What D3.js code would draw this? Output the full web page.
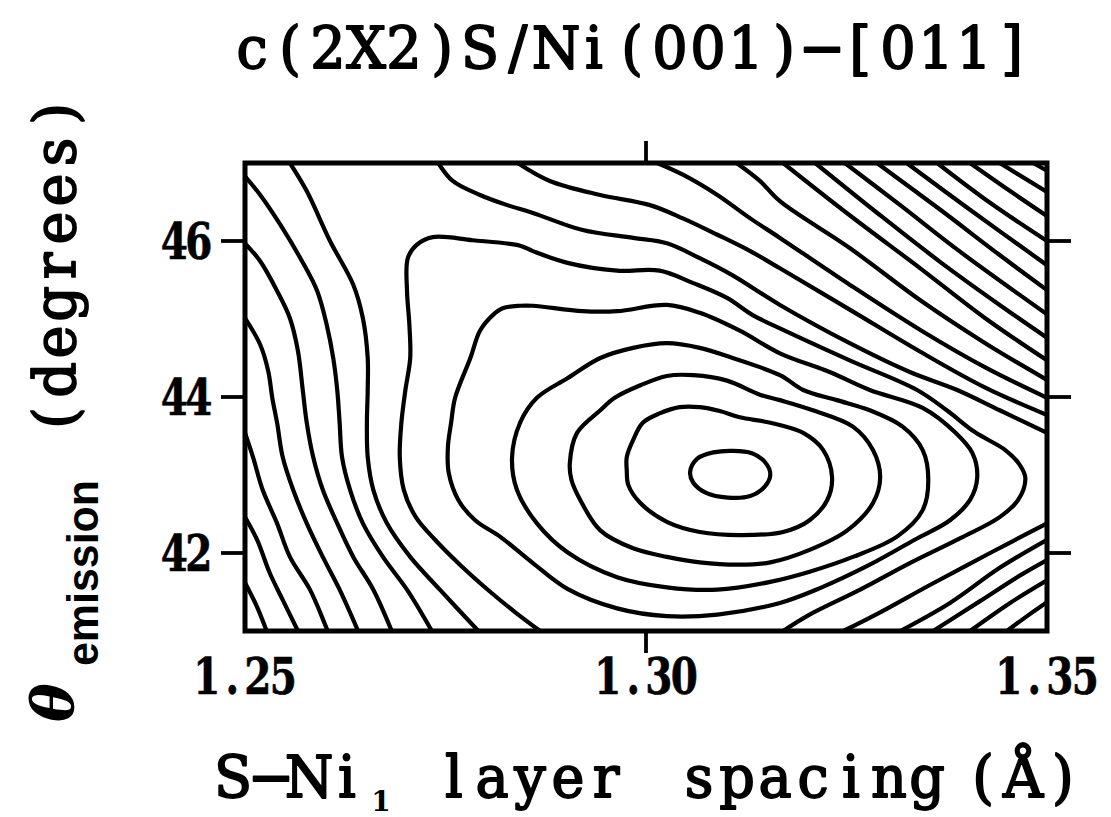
<!DOCTYPE html>
<html>
<head>
<meta charset="utf-8">
<script src="https://cdn.jsdelivr.net/npm/d3@7"></script>
<style>
  body { margin: 0; background: #fff; }
  svg { display: block; }
</style>
</head>
<body>
<svg id="chart" width="1111" height="817"></svg>
<script>
// Axis ranges and ticks
const xDomain = [1.25, 1.35];
const yDomain = [41, 47];
const xTicks = [1.25, 1.30, 1.35];
const xTickLabels = ["1.25", "1.30", "1.35"];
const yTicks = [42, 44, 46];
const yTickLabels = ["42", "44", "46"];

// Contour lines, [layer spacing (Å), emission angle (deg)], innermost level first.
// Closed rings around the minimum
const level1 = [[[1.3055,43.04],[1.3064,43.21],[1.3084,43.29],[1.3108,43.31],[1.3132,43.28],[1.3148,43.17],[1.3155,43.01],[1.3148,42.85],[1.3130,42.73],[1.3102,42.71],[1.3075,42.77],[1.3059,42.90]]];
const level2 = [[[1.2976,43.06],[1.2976,43.23],[1.2984,43.45],[1.2996,43.67],[1.3017,43.79],[1.3042,43.87],[1.3067,43.87],[1.3092,43.82],[1.3117,43.74],[1.3155,43.67],[1.3196,43.54],[1.3221,43.32],[1.3232,42.97],[1.3226,42.68],[1.3204,42.42],[1.3171,42.27],[1.3117,42.23],[1.3067,42.27],[1.3026,42.40],[1.2993,42.64],[1.2978,42.87]]];
const level3 = [[[1.2905,43.15],[1.2914,43.54],[1.2943,43.83],[1.2961,43.99],[1.2993,44.15],[1.3026,44.27],[1.3059,44.28],[1.3101,44.21],[1.3142,44.03],[1.3167,43.96],[1.3208,43.83],[1.3258,43.62],[1.3283,43.32],[1.3292,42.97],[1.3283,42.64],[1.3251,42.29],[1.3204,42.04],[1.3155,41.88],[1.3117,41.85],[1.3067,41.88],[1.3026,41.95],[1.2984,42.06],[1.2943,42.29],[1.2918,42.68],[1.2907,42.94]]];
const level4 = [[[1.2864,43.99],[1.2902,44.24],[1.2943,44.50],[1.2984,44.63],[1.3026,44.69],[1.3067,44.63],[1.3108,44.50],[1.3167,44.28],[1.3196,44.09],[1.3238,43.96],[1.3279,43.83],[1.3320,43.62],[1.3345,43.32],[1.3352,42.94],[1.3345,42.55],[1.3313,42.21],[1.3258,41.95],[1.3204,41.76],[1.3155,41.63],[1.3089,41.53],[1.3026,41.56],[1.2964,41.69],[1.2902,42.01],[1.2864,42.38],[1.2839,42.81],[1.2833,43.23],[1.2843,43.67]]];
const level5 = [[[1.2843,45.17],[1.2859,45.17],[1.2921,45.10],[1.2964,45.10],[1.3026,45.18],[1.3067,45.08],[1.3117,44.85],[1.3167,44.56],[1.3229,44.32],[1.3279,44.09],[1.3345,43.86],[1.3385,43.55],[1.3407,43.28],[1.3413,42.97],[1.3404,42.68],[1.3379,42.42],[1.3335,42.17],[1.3279,41.85],[1.3217,41.55],[1.3167,41.36],[1.3089,41.21],[1.3026,41.19],[1.2964,41.29],[1.2902,41.54],[1.2859,41.87],[1.2818,42.21],[1.2787,42.42],[1.2766,42.68],[1.2754,43.03],[1.2753,43.36],[1.2757,43.67],[1.2762,43.99],[1.2781,44.50],[1.2793,44.85],[1.2809,45.05],[1.2822,45.14]]];
// Open lines that end on the frame
const level6 = [[[1.2868,41.00],[1.2837,41.24],[1.2806,41.50],[1.2768,41.85],[1.2737,42.17],[1.2713,42.46],[1.2698,42.81],[1.2693,43.23],[1.2695,43.67],[1.2700,44.09],[1.2706,44.50],[1.2705,44.92],[1.2702,45.36],[1.2703,45.78],[1.2714,45.95],[1.2734,46.05],[1.2784,46.01],[1.2843,45.94],[1.2859,45.87],[1.2902,45.72],[1.2964,45.62],[1.3017,45.62],[1.3059,45.46],[1.3101,45.27],[1.3133,45.05],[1.3167,44.88],[1.3254,44.47],[1.3338,44.09],[1.3375,43.83],[1.3410,43.55],[1.3448,43.32],[1.3466,43.13],[1.3473,42.96],[1.3464,42.68],[1.3441,42.46],[1.3392,42.19],[1.3329,41.87],[1.3267,41.53],[1.3204,41.21],[1.3171,41.00]]];
const level7 = [
  [[1.2556,47.00],[1.2577,46.64],[1.2606,46.00],[1.2635,45.44],[1.2647,45.01],[1.2653,44.50],[1.2653,44.09],[1.2652,43.67],[1.2653,43.23],[1.2660,42.81],[1.2677,42.38],[1.2706,41.95],[1.2743,41.53],[1.2791,41.00]],
  [[1.2741,47.00],[1.2759,46.77],[1.2793,46.59],[1.2827,46.46],[1.2859,46.36],[1.2921,46.14],[1.2984,46.04],[1.3026,45.97],[1.3067,45.78],[1.3108,45.56],[1.3167,45.18],[1.3254,44.69],[1.3329,44.32],[1.3388,44.09],[1.3441,43.83],[1.3500,43.54]],
  [[1.3246,41.00],[1.3292,41.24],[1.3354,41.59],[1.3429,42.00],[1.3500,42.38]]
];
const level8 = [
  [[1.2500,46.83],[1.2519,46.59],[1.2544,46.21],[1.2569,45.78],[1.2590,45.36],[1.2602,44.92],[1.2610,44.50],[1.2615,44.09],[1.2618,43.67],[1.2621,43.23],[1.2631,42.81],[1.2647,42.38],[1.2672,41.95],[1.2702,41.53],[1.2733,41.00]],
  [[1.2840,47.00],[1.2880,46.77],[1.2943,46.59],[1.3005,46.46],[1.3046,46.29],[1.3089,46.08],[1.3130,45.87],[1.3167,45.65],[1.3254,45.12],[1.3342,44.58],[1.3423,44.12],[1.3500,43.77]],
  [[1.3317,41.00],[1.3379,41.36],[1.3441,41.81],[1.3500,42.17]]
];
const level9 = [
  [[1.2500,45.97],[1.2519,45.74],[1.2540,45.36],[1.2556,45.01],[1.2566,44.59],[1.2572,44.09],[1.2577,43.67],[1.2585,43.23],[1.2597,42.81],[1.2615,42.38],[1.2635,41.95],[1.2660,41.53],[1.2683,41.00]],
  [[1.3014,47.00],[1.3046,46.85],[1.3089,46.59],[1.3130,46.29],[1.3167,46.04],[1.3254,45.44],[1.3342,44.86],[1.3423,44.38],[1.3500,43.99]],
  [[1.3358,41.00],[1.3416,41.38],[1.3466,41.71],[1.3500,41.91]]
];
const level10 = [
  [[1.2500,45.01],[1.2519,44.67],[1.2529,44.33],[1.2534,43.99],[1.2540,43.67],[1.2547,43.23],[1.2560,42.81],[1.2577,42.38],[1.2597,41.95],[1.2618,41.53],[1.2641,41.00]],
  [[1.3113,47.00],[1.3142,46.77],[1.3167,46.51],[1.3254,45.91],[1.3342,45.24],[1.3423,44.69],[1.3500,44.22]],
  [[1.3404,41.00],[1.3454,41.36],[1.3500,41.65]]
];
const level11 = [
  [[1.2500,43.54],[1.2510,43.23],[1.2522,42.81],[1.2540,42.38],[1.2556,41.95],[1.2581,41.53],[1.2603,41.00]],
  [[1.3171,47.00],[1.3254,46.33],[1.3342,45.65],[1.3423,45.01],[1.3500,44.47]],
  [[1.3450,41.00],[1.3479,41.22],[1.3500,41.37]]
];
const level12 = [
  [[1.2500,42.46],[1.2515,42.17],[1.2531,41.74],[1.2547,41.40],[1.2566,41.00]],
  [[1.3211,47.00],[1.3292,46.33],[1.3367,45.73],[1.3441,45.18],[1.3500,44.76]]
];
const level13 = [
  [[1.2500,41.62],[1.2515,41.31],[1.2527,41.00]],
  [[1.3248,47.00],[1.3317,46.46],[1.3392,45.86],[1.3500,45.06]]
];
const level14 = [[[1.3288,47.00],[1.3367,46.40],[1.3441,45.82],[1.3500,45.37]]];
const level15 = [[[1.3325,47.00],[1.3404,46.40],[1.3500,45.69]]];
const level16 = [[[1.3363,47.00],[1.3429,46.49],[1.3500,46.00]]];
const level17 = [[[1.3404,47.00],[1.3454,46.64],[1.3500,46.32]]];
const level18 = [[[1.3441,47.00],[1.3500,46.63]]];
const level19 = [[[1.3483,47.00],[1.3500,46.90]]];

const ringLevels = [level1, level2, level3, level4, level5];
const openLevels = [level6, level7, level8, level9, level10, level11, level12,
                    level13, level14, level15, level16, level17, level18, level19];

// ---- layout ----
const svg = d3.select("#chart");
const x = d3.scaleLinear().domain(xDomain).range([245, 1047]);
const y = d3.scaleLinear().domain(yDomain).range([631, 163]);

const ink = "#000";
const serif = "'DejaVu Serif', 'Liberation Serif', serif";

svg.append("rect").attr("width", 1111).attr("height", 817).attr("fill", "#fff");

svg.append("defs").append("clipPath").attr("id", "plot-clip")
  .append("rect")
  .attr("x", x(xDomain[0])).attr("y", y(yDomain[1]))
  .attr("width", x(xDomain[1]) - x(xDomain[0]))
  .attr("height", y(yDomain[0]) - y(yDomain[1]));

const contourLayer = svg.append("g").attr("clip-path", "url(#plot-clip)");

const openLine = d3.line()
  .x(d => x(d[0])).y(d => y(d[1]))
  .curve(d3.curveCatmullRom.alpha(0.5));
const ringLine = d3.line()
  .x(d => x(d[0])).y(d => y(d[1]))
  .curve(d3.curveCatmullRomClosed.alpha(0.5));

ringLevels.forEach(segs => segs.forEach(seg => {
  contourLayer.append("path").attr("d", ringLine(seg));
}));
openLevels.forEach(segs => segs.forEach(seg => {
  contourLayer.append("path").attr("d", openLine(seg));
}));
contourLayer.selectAll("path")
  .attr("fill", "none").attr("stroke", ink)
  .attr("stroke-width", 4.2)
  .attr("stroke-linejoin", "round").attr("stroke-linecap", "round");

// ---- frame and ticks ----
svg.append("rect")
  .attr("x", x(xDomain[0])).attr("y", y(yDomain[1]))
  .attr("width", x(xDomain[1]) - x(xDomain[0]))
  .attr("height", y(yDomain[0]) - y(yDomain[1]))
  .attr("fill", "none").attr("stroke", ink).attr("stroke-width", 5);

const tickLen = 24;
const ticks = svg.append("g").attr("stroke", ink).attr("stroke-width", 3.8);
yTicks.forEach(v => {
  ticks.append("line").attr("x1", x(xDomain[0]) - tickLen).attr("x2", x(xDomain[0]))
    .attr("y1", y(v)).attr("y2", y(v));
  ticks.append("line").attr("x1", x(xDomain[1])).attr("x2", x(xDomain[1]) + tickLen)
    .attr("y1", y(v)).attr("y2", y(v));
});
xTicks.filter(v => v > xDomain[0] && v < xDomain[1]).forEach(v => {
  ticks.append("line").attr("x1", x(v)).attr("x2", x(v))
    .attr("y1", y(yDomain[1]) - tickLen + 2).attr("y2", y(yDomain[1]));
  ticks.append("line").attr("x1", x(v)).attr("x2", x(v))
    .attr("y1", y(yDomain[0])).attr("y2", y(yDomain[0]) + tickLen - 2);
});

// Typewriter-style text: one glyph per fixed-width cell, glyphs narrowed by sx.
function monoText(parent, str, x0, baseline, cell, o) {
  const sx = o.sx || 1;
  const xs = Array.from(str).map((c, i) => ((x0 + cell * (i + 0.5)) / sx).toFixed(2));
  return parent.append("text")
    .attr("transform", `scale(${sx},1)`)
    .attr("x", xs.join(" "))
    .attr("y", baseline)
    .attr("text-anchor", "middle")
    .attr("font-family", serif)
    .attr("font-weight", o.weight || "normal")
    .attr("font-size", o.size)
    .style("fill", ink)
    .style("stroke", o.stroke ? ink : "none")
    .style("stroke-width", (o.stroke || 0) + "px")
    .style("stroke-linejoin", "round")
    .text(str);
}

// ---- tick labels ----
const tickFont = { size: 50, weight: "bold", sx: 0.78, stroke: 0.6 };
yTicks.forEach((v, i) => {
  monoText(svg, yTickLabels[i], 162, y(v) + 18, 24.5, tickFont);
});
xTicks.forEach((v, i) => {
  monoText(svg, xTickLabels[i], x(v) - 51, 694, 25.5, tickFont);
});

// ---- title ----
const labelFont = { size: 58, sx: 0.96, stroke: 1.8 };
monoText(svg, "c(2X2)S/Ni(001)\u2212[011]", 233, 68, 38, labelFont);

// ---- x axis title ----
monoText(svg, "S\u2212Ni", 214, 797, 38, labelFont);
svg.append("text").attr("x", 381).attr("y", 811)
  .attr("text-anchor", "middle")
  .attr("font-family", serif).attr("font-weight", "bold")
  .attr("font-size", 28).attr("fill", ink).text("1");
monoText(svg, "layer", 435, 797, 38, labelFont);
monoText(svg, "spacing", 680, 797, 38, labelFont);
monoText(svg, "(\u00C5)", 963, 797, 40, labelFont);

// ---- y axis title (rotated) ----
const yTitle = svg.append("g").attr("transform", "rotate(-90)");
yTitle.append("text").attr("x", -722).attr("y", 73)
  .attr("font-family", serif).attr("font-style", "italic").attr("font-weight", "bold")
  .attr("font-size", 58).attr("fill", ink).text("\u03B8");
yTitle.append("text").attr("x", -666).attr("y", 98)
  .attr("font-family", "'Liberation Sans', Arial, sans-serif").attr("font-weight", "bold")
  .attr("font-size", 44).attr("fill", ink)
  .attr("textLength", 186).attr("lengthAdjust", "spacingAndGlyphs").text("emission");
monoText(yTitle, "(degrees)", -437, 75, 38, labelFont);
</script>
</body>
</html>
